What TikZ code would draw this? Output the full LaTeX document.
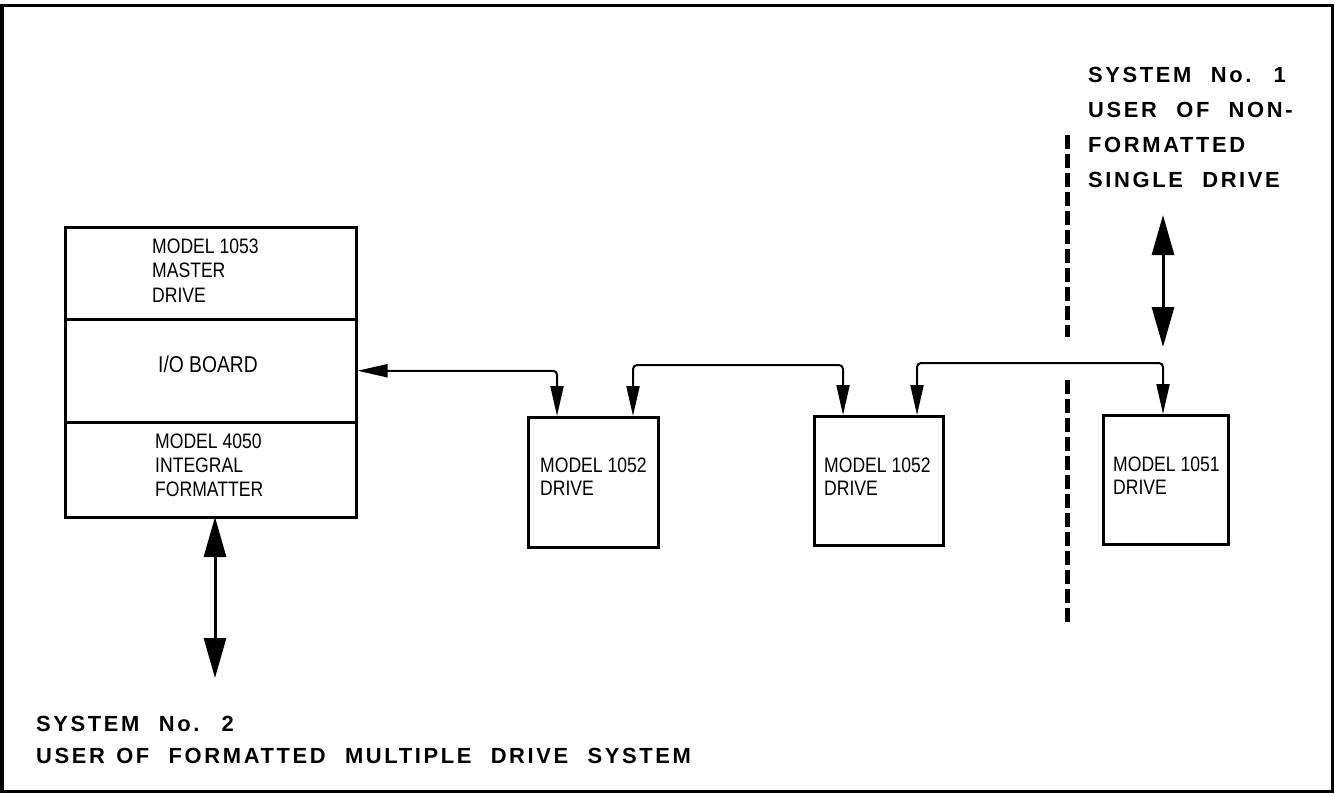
\documentclass[tikz,border=0pt]{standalone}
\usepackage{fontspec}
\setmainfont{Liberation Sans}
\newfontfamily\condfont{Liberation Sans}[FakeStretch=0.84]
\newfontfamily\sysfont{Liberation Sans}[LetterSpace=12,WordSpace=1.3]
\usetikzlibrary{arrows.meta}
\newcommand{\wsp}{\hspace{8bp} }
\tikzset{
  box/.style={draw, line width=2.5bp, inner sep=0pt, anchor=north west},
  boxtext/.style={font=\condfont\fontsize{21}{23}\selectfont, align=left, inner sep=0pt, anchor=base west},
  systext/.style={font=\sysfont\bfseries\fontsize{22}{35}\selectfont, align=left, inner sep=0pt, anchor=base west},
  conn/.style={line width=2bp, rounded corners=4bp},
  smalltip/.style={{Triangle[length=30bp,width=13bp]}-{Triangle[length=30bp,width=13bp]}},
  bigtip/.style={line width=3bp, {Triangle[length=40bp,width=22bp]}-{Triangle[length=40bp,width=22bp]}},
  sep/.style={line width=5bp, dash pattern=on 14bp off 5bp},
  frame/.style={line width=3bp},
}
\begin{document}
\begin{tikzpicture}[x=1bp,y=-1bp]
\useasboundingbox (0,0) rectangle (1335,795);
\draw[frame] (2,6) rectangle (1332,791);
% left stacked box
\node[box, minimum width=291bp, minimum height=92bp] (master) at (64,226) {};
\node[box, minimum width=291bp, minimum height=103bp] (io) at (64,318) {};
\node[box, minimum width=291bp, minimum height=95bp] (fmt) at (64,421) {};
\node[boxtext, font=\condfont\fontsize{21}{24.5}\selectfont] (tmaster) at (152,302) {MODEL 1053\\MASTER\\DRIVE};
\node[boxtext, font=\condfont\fontsize{23}{24}\selectfont] (tio) at (158,372) {I/O BOARD};
\node[boxtext, font=\condfont\fontsize{21}{24}\selectfont] (tfmt) at (155,496) {MODEL 4050\\INTEGRAL\\FORMATTER};
% drives
\node[box, minimum width=130bp, minimum height=130bp] (d1) at (527,416) {};
\node[box, minimum width=129bp, minimum height=129bp] (d2) at (813,415) {};
\node[box, minimum width=125bp, minimum height=129bp] (d3) at (1102,414) {};
\node[boxtext] (td1) at (540,495) {MODEL 1052\\DRIVE};
\node[boxtext] (td2) at (824,495) {MODEL 1052\\DRIVE};
\node[boxtext] (td3) at (1113,494) {MODEL 1051\\DRIVE};
% connectors
\coordinate (d1a) at (557,416);
\coordinate (d1b) at (633,416);
\coordinate (d2a) at (843,415);
\coordinate (d2b) at (917,415);
\coordinate (d3a) at (1163,414);
\draw[conn, smalltip] (io.east) -- (io.east -| d1a) -- (d1a);
\draw[conn, smalltip] (d1b) -- (633,365) -- (843,365) -- (d2a);
\draw[conn, smalltip] (d2b) -- (917,363) -- (1163,363) -- (d3a);
% system arrows
\coordinate (s2top) at (215,517);
\coordinate (s2bot) at (215,678);
\draw[bigtip] (s2top) -- (s2bot);
\coordinate (s1top) at (1163,215);
\coordinate (s1bot) at (1163,347);
\draw[bigtip] (s1top) -- (s1bot);
% separator
\coordinate (sepA) at (1067,135);
\coordinate (sepB) at (1067,337);
\coordinate (sepC) at (1067,380);
\coordinate (sepD) at (1067,623);
\draw[sep] (sepA) -- (sepB);
\draw[sep] (sepC) -- (sepD);
% labels
\node[systext] (sys1) at (1088,187) {SYSTEM\wsp No.\wsp 1\\USER\wsp OF\wsp NON-\\FORMATTED\\SINGLE\wsp DRIVE};
\node[systext, font=\sysfont\bfseries\fontsize{22}{32}\selectfont] (sys2) at (36,763) {SYSTEM\wsp No.\wsp 2\\USER OF\wsp FORMATTED\wsp MULTIPLE\wsp DRIVE\wsp SYSTEM};
\end{tikzpicture}
\end{document}
